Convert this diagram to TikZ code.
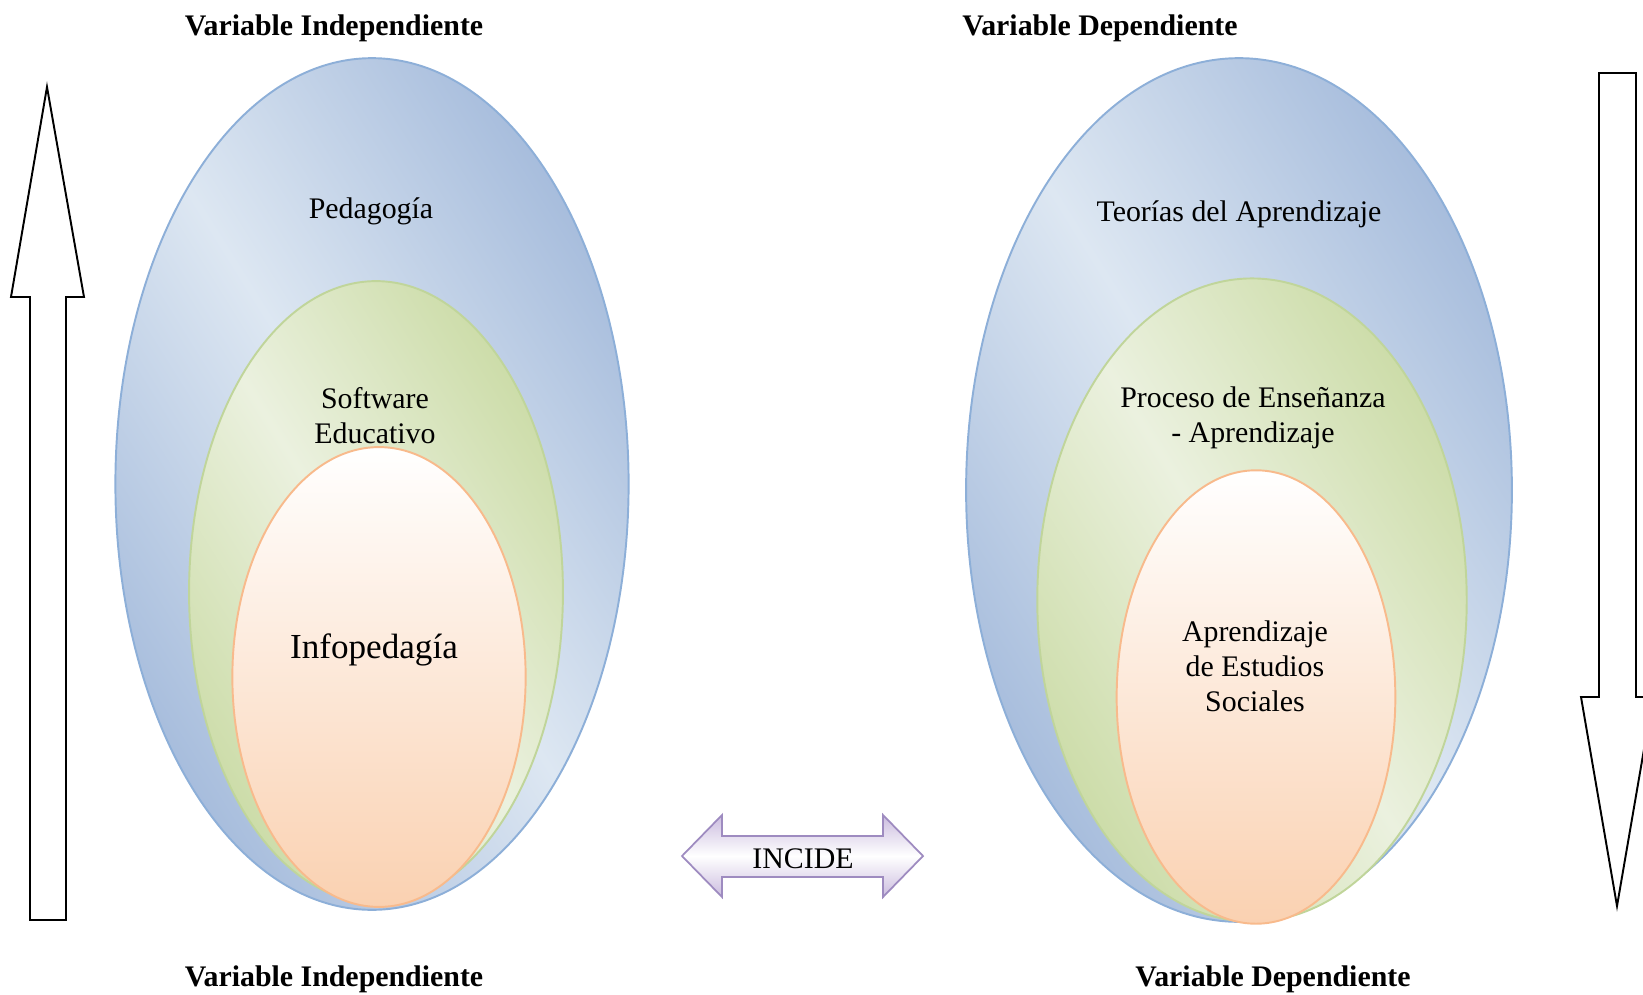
\documentclass[tikz,border=0pt]{standalone}
\usepackage{fontspec}
\setmainfont{Liberation Serif}
\usetikzlibrary{shapes.geometric}
\definecolor{bluD}{HTML}{A6BCDC}
\definecolor{bluL}{HTML}{DDE7F2}
\definecolor{bluE}{HTML}{8DAFD8}
\definecolor{grnD}{HTML}{CCDCA8}
\definecolor{grnL}{HTML}{EBF1DF}
\definecolor{grnE}{HTML}{C0D59A}
\definecolor{orgD}{HTML}{FAD1B1}
\definecolor{orgE}{HTML}{F8BA8C}
\definecolor{lavD}{HTML}{CBBCDF}
\definecolor{lavE}{HTML}{9E8BC0}

\begin{document}
\begin{tikzpicture}[x=0.02cm,y=-0.02cm,
  ell/.style 2 args={ellipse,inner sep=0pt,minimum width=#1*0.04cm,minimum height=#2*0.04cm},
  bluell/.style={draw=bluE,line width=1.1pt,left color=bluD,right color=bluD,middle color=bluL,shading angle=-58},
  grnell/.style={draw=grnE,line width=1.1pt,left color=grnD,right color=grnD,middle color=grnL,shading angle=-58},
  orgell/.style={draw=orgE,line width=1.1pt,top color=white,bottom color=orgD},
  lbl/.style={font=\fontsize{17}{20}\selectfont,align=center},
  ttl/.style={font=\fontsize{17}{20}\selectfont\bfseries},
  blockar/.style={draw=black,line width=1.1pt,fill=white,line join=miter},
  incar/.style={draw=lavE,line width=1pt,top color=lavD,bottom color=lavD,middle color=white}]
  \useasboundingbox (0,0) rectangle (1643,994);

  % titles
  \node[ttl] (viTop) at (334,28) {Variable Independiente};
  \node[ttl] (vdTop) at (1100,28) {Variable Dependiente};
  \node[ttl] (viBot) at (334,979) {Variable Independiente};
  \node[ttl] (vdBot) at (1273,979) {Variable Dependiente};

  % independent side
  \node[ell={256.7}{426},bluell] (pedE) at (372,484) {};
  \node[ell={187}{311},grnell] (softE) at (376,592) {};
  \node[ell={146.7}{230},orgell] (infoE) at (379,677) {};
  \node[lbl] (ped) at (371,211) {Pedagogía};
  \node[lbl] (soft) at (375,416) {Software\\Educativo};
  \node[lbl,font=\fontsize{20}{24}\selectfont] (info) at (374,650) {Infopedagía};

  % dependent side
  \node[ell={273}{432},bluell] (teoE) at (1239,490) {};
  \node[ell={214.8}{321.7},grnell] (procE) at (1252,600) {};
  \node[ell={139.4}{226.8},orgell] (apreE) at (1256,697) {};
  \node[lbl] (teo) at (1239,214) {Teorías del Aprendizaje};
  \node[lbl] (proc) at (1253,418) {Proceso de Enseñanza\\- Aprendizaje};
  \node[lbl] (apre) at (1255,666) {Aprendizaje\\de Estudios\\Sociales};

  % block arrows at the sides
  \draw[blockar] (30,920) -- (30,297) -- (11,297) -- (47,87) -- (84,297)
    -- (66,297) -- (66,920) -- cycle;
  \draw[blockar] (1599,73) -- (1599,697) -- (1581,697) -- (1617,906)
    -- (1653,697) -- (1636,697) -- (1636,73) -- cycle;

  % double arrow in the middle
  \draw[incar] (682,856) -- (722,815) -- (722,836) -- (883,836) -- (883,815)
    -- (923,856) -- (883,897) -- (883,877) -- (722,877) -- (722,897) -- cycle;
  \node[lbl] (inc) at (803,859) {INCIDE};
\end{tikzpicture}
\end{document}
